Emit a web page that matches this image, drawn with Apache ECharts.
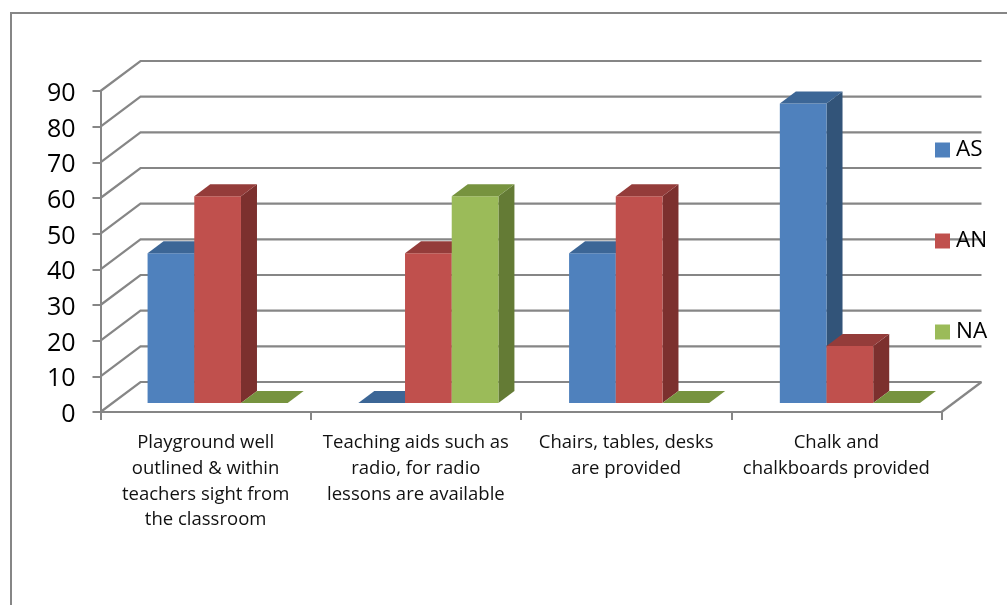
<!DOCTYPE html>
<html>
<head>
<meta charset="utf-8">
<style>html,body{margin:0;padding:0;background:#fff}#chart{width:1007px;height:605px}</style>
<script src="https://cdn.jsdelivr.net/npm/echarts@6/dist/echarts.min.js"></script>
</head>
<body>
<div id="chart"></div>
<script>
const categories = [
  'Playground well\noutlined & within\nteachers sight from\nthe classroom',
  'Teaching aids such as\nradio, for radio\nlessons are available',
  'Chairs, tables, desks\nare provided',
  'Chalk and\nchalkboards provided'
];
const seriesNames = ['AS', 'AN', 'NA'];
const asValues = [42, 0, 42, 84];
const anValues = [58, 42, 58, 16];
const naValues = [0, 58, 0, 0];
const yTicks = [0, 10, 20, 30, 40, 50, 60, 70, 80, 90];

const faceColors = [
  { front: '#4F81BD', top: '#3C6696', side: '#325479' },
  { front: '#C0504D', top: '#943C3A', side: '#7C302E' },
  { front: '#9BBB59', top: '#77933F', side: '#647B35' }
];
const gridColor = '#868686';
const floorDepth = [40, -30];   // oblique offset of the back wall
const barDepth = [16, -12];     // oblique depth of one bar
const barInset = [12, -9];      // bars stand this far behind the front floor edge
const barWidth = 46.7;
const groupDrift = 0.5;         // groups spread slightly wider than the front tick spacing

function barSeries(name, values, index) {
  const colors = faceColors[index];
  return {
    name: name,
    type: 'custom',
    itemStyle: { color: colors.front },
    encode: { x: 0, y: 1 },
    data: values.map((v, i) => [i, v]),
    z: 5,
    renderItem(params, api) {
      const base = api.coord([api.value(0), 0]);
      const tip = api.coord([api.value(0), api.value(1)]);
      const x0 = base[0] + barInset[0] + (index - 1.5) * barWidth + api.value(0) * groupDrift;
      const x1 = x0 + barWidth;
      const y0 = base[1] + barInset[1];
      const y1 = tip[1] + barInset[1];
      const dx = barDepth[0], dy = barDepth[1];
      const face = (points, fill) => ({
        type: 'polygon',
        shape: { points: points },
        style: { fill: fill, stroke: null }
      });
      return {
        type: 'group',
        children: [
          face([[x1, y0], [x1 + dx, y0 + dy], [x1 + dx, y1 + dy], [x1, y1]], colors.side),
          face([[x0, y0], [x1, y0], [x1, y1], [x0, y1]], colors.front),
          face([[x0, y1], [x1, y1], [x1 + dx, y1 + dy], [x0 + dx, y1 + dy]], colors.top)
        ]
      };
    }
  };
}

// Value lines bend back along the left wall, then run across the rear wall.
const wallLines = {
  type: 'custom',
  silent: true,
  z: 1,
  encode: { y: 0 },
  data: yTicks.map(v => [v]),
  renderItem(params, api) {
    const rect = params.coordSys;
    const y = api.coord([0, api.value(0)])[1];
    const left = rect.x, right = rect.x + rect.width;
    const dx = floorDepth[0], dy = floorDepth[1];
    const lineStyle = { stroke: gridColor, lineWidth: 2.2, fill: null };
    const children = [{
      type: 'polyline',
      shape: { points: [[left, y], [left + dx, y + dy], [right + dx, y + dy]] },
      style: lineStyle
    }];
    if (api.value(0) === 0) {
      children.push({
        type: 'line',
        shape: { x1: right, y1: y, x2: right + dx, y2: y + dy },
        style: lineStyle
      });
    }
    return { type: 'group', children: children };
  }
};

const chart = echarts.init(document.getElementById('chart'));
chart.setOption({
  animation: false,
  backgroundColor: '#fff',
  textStyle: { fontFamily: '"Open Sans", sans-serif', color: '#000' },
  grid: { left: 100.5, top: 91, width: 841, height: 321 },
  graphic: [{
    type: 'polyline',
    silent: true,
    shape: { points: [[11, 606], [11, 13], [1008, 13]] },
    style: { stroke: gridColor, lineWidth: 2, fill: null }
  }],
  legend: {
    orient: 'vertical',
    left: 930,
    top: 130,
    itemWidth: 15,
    itemHeight: 15,
    itemGap: 61,
    icon: 'rect',
    data: seriesNames,
    selectedMode: false,
    textStyle: { fontSize: 22.5, lineHeight: 30, color: '#000', padding: [0, 0, 0, 1] }
  },
  xAxis: {
    type: 'category',
    data: categories,
    axisLine: { lineStyle: { color: gridColor, width: 2 } },
    axisTick: { show: true, alignWithLabel: false, length: 8, lineStyle: { color: gridColor, width: 2 } },
    axisLabel: { fontSize: 18.5, lineHeight: 25.7, color: '#111', margin: 18, interval: 0 }
  },
  yAxis: {
    type: 'value',
    min: 0,
    max: 90,
    interval: 10,
    splitLine: { show: false },
    axisLine: { show: true, lineStyle: { color: gridColor, width: 2 } },
    axisTick: { show: true, length: 8, lineStyle: { color: gridColor, width: 2 } },
    axisLabel: {
      margin: 25,
      formatter: '{n|{value}}',
      rich: { n: { fontSize: 25, color: '#000', padding: [6, 0, 0, 0] } }
    }
  },
  series: [
    wallLines,
    barSeries(seriesNames[0], asValues, 0),
    barSeries(seriesNames[1], anValues, 1),
    barSeries(seriesNames[2], naValues, 2)
  ]
});
</script>
</body>
</html>
